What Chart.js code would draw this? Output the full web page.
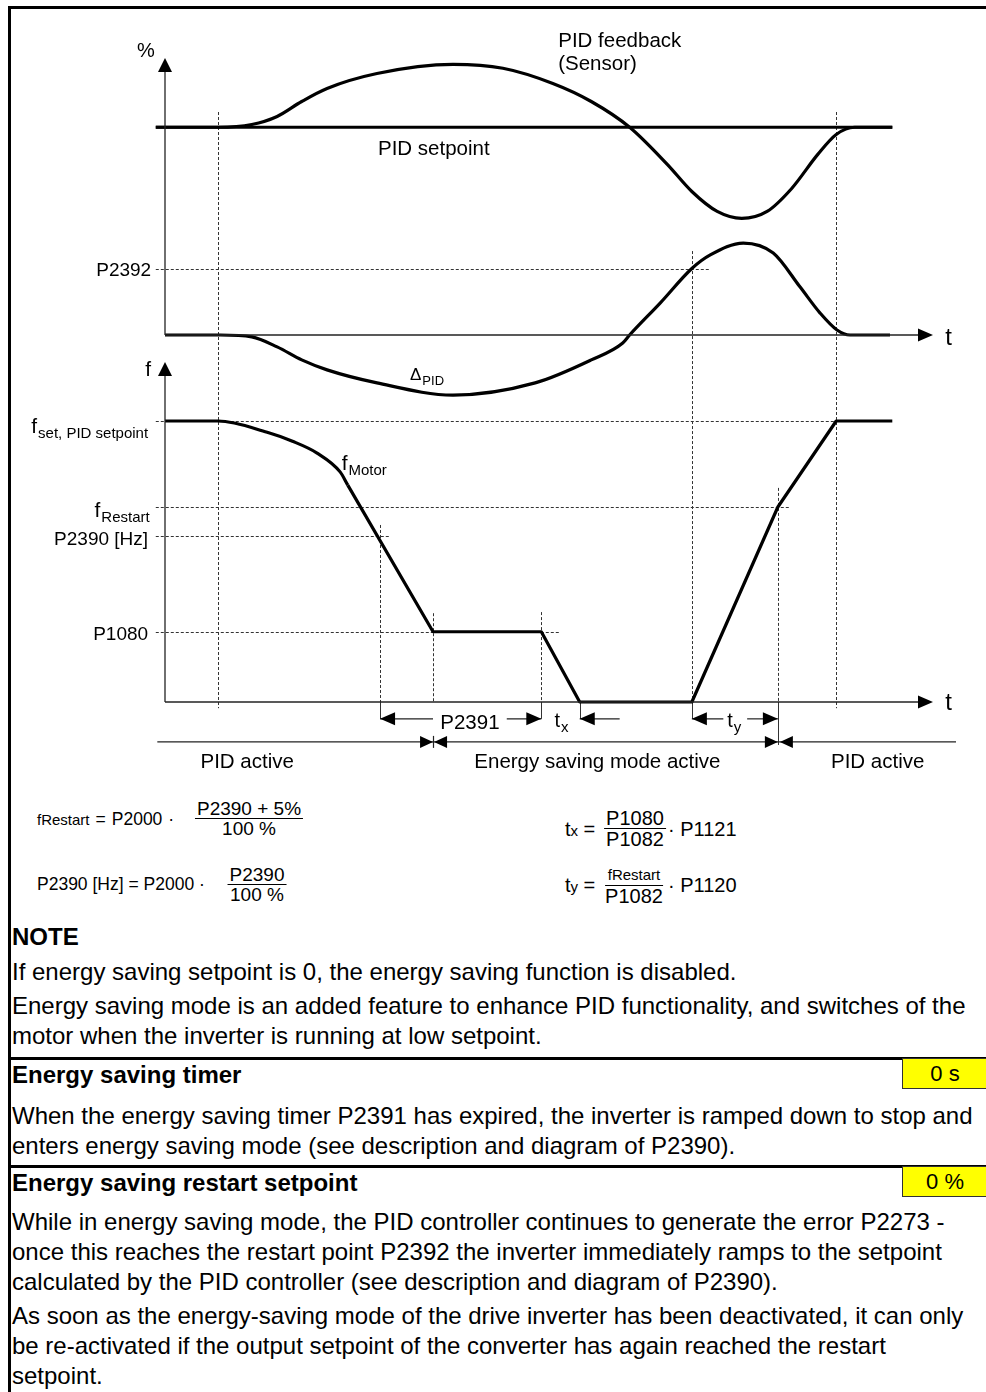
<!DOCTYPE html>
<html>
<head>
<meta charset="utf-8">
<script src="https://cdn.jsdelivr.net/npm/chart.js@4.4.1/dist/chart.umd.min.js"></script>
<style>
  html, body { margin: 0; padding: 0; background: #fff; }
  body { width: 986px; height: 1392px; position: relative; overflow: hidden;
         font-family: "Liberation Sans", Arial, sans-serif; color: #000; }
  #diagram { position: absolute; left: 0; top: 0; }
  .rule { position: absolute; background: #000; }
  .ln { position: absolute; left: 12px; white-space: nowrap; font-size: 24px; line-height: 28px; }
  .ln.b { font-weight: bold; }
  .badge { position: absolute; left: 902px; width: 86px; height: 31px; box-sizing: border-box;
           background: #ffff00; border: 1px solid #333; font-size: 22px; line-height: 29px;
           text-align: center; }
  .lhs { position: absolute; white-space: nowrap; font-size: 17.5px; line-height: 20px; }
  .op { margin: 0 6px; }
  .rhs { position: absolute; white-space: nowrap; font-size: 20px; line-height: 20px; }
  .frac { position: absolute; display: flex; flex-direction: column; text-align: center;
          transform: translateX(-50%); font-size: 19px; line-height: 19px; white-space: nowrap; }
  .frac.big { font-size: 20px; line-height: 20px; }
  .frac .num { border-bottom: 1px solid #000; padding: 0 2px; }
  .sm { font-size: 15px; }
</style>
</head>
<body>
<canvas id="diagram" width="986" height="780"></canvas>

<div class="rule" style="left:8px;top:6px;width:978px;height:3px"></div>
<div class="rule" style="left:8px;top:6px;width:3px;height:1386px"></div>
<div class="rule" style="left:8px;top:1057px;width:978px;height:3px"></div>
<div class="rule" style="left:8px;top:1165px;width:978px;height:3px"></div>

<!-- restart frequency and sleep threshold -->
<div class="lhs" style="left:37px;top:809px"><span class="sm">fRestart</span><span class="op">=</span>P2000<span class="op">·</span></div>
<div class="frac" style="left:249px;top:799px"><span class="num">P2390 + 5%</span><span>100 %</span></div>
<div class="lhs" style="left:37px;top:874px">P2390 [Hz] = P2000 ·</div>
<div class="frac" style="left:257px;top:865px"><span class="num">P2390</span><span>100 %</span></div>
<!-- ramp times -->
<div class="rhs" style="left:565px;top:819px">t<span class="sm">x</span> =</div>
<div class="frac big" style="left:635px;top:808px"><span class="num">P1080</span><span>P1082</span></div>
<div class="rhs" style="left:668px;top:819px">· P1121</div>
<div class="rhs" style="left:565px;top:875px">t<span class="sm">y</span> =</div>
<div class="frac big" style="left:634px;top:863px"><span class="num"><span class="sm">fRestart</span></span><span>P1082</span></div>
<div class="rhs" style="left:668px;top:875px">· P1120</div>

<div class="ln b" style="top:923px">NOTE</div>
<div class="ln" style="top:958px">If energy saving setpoint is 0, the energy saving function is disabled.</div>
<div class="ln" style="top:992px">Energy saving mode is an added feature to enhance PID functionality, and switches of the</div>
<div class="ln" style="top:1022px">motor when the inverter is running at low setpoint.</div>

<div class="ln b" style="top:1061px">Energy saving timer</div>
<div class="badge" style="top:1058px">0 s</div>
<div class="ln" style="top:1102px">When the energy saving timer P2391 has expired, the inverter is ramped down to stop and</div>
<div class="ln" style="top:1132px">enters energy saving mode (see description and diagram of P2390).</div>

<div class="ln b" style="top:1169px">Energy saving restart setpoint</div>
<div class="badge" style="top:1166px">0 %</div>
<div class="ln" style="top:1208px">While in energy saving mode, the PID controller continues to generate the error P2273 -</div>
<div class="ln" style="top:1238px">once this reaches the restart point P2392 the inverter immediately ramps to the setpoint</div>
<div class="ln" style="top:1268px">calculated by the PID controller (see description and diagram of P2390).</div>
<div class="ln" style="top:1302px">As soon as the energy-saving mode of the drive inverter has been deactivated, it can only</div>
<div class="ln" style="top:1332px">be re-activated if the output setpoint of the converter has again reached the restart</div>
<div class="ln" style="top:1362px">setpoint.</div>

<script>
// event times on the common t axis (0 = axis origin, 100 = arrow tip)
var T_DEV = 6.9        // PID starts to pull the frequency down
var T_P2390 = 28.0     // f falls below P2390 [Hz], timer starts
var T_MIN = 34.9       // f reaches P1080
var T_TIMER = 49.0     // P2391 elapsed
var T_STOP = 54.0      // motor stopped
var T_WAKE = 68.6      // delta reaches P2392
var T_RESTART = 79.8   // f back at fRestart
var T_SET = 87.4       // f back at setpoint
var T_END = 94.7

// upper graph, percent
var SETPOINT = 75
var P2392 = 24
var setpointT = [-1.2, T_END]
var setpointPct = [SETPOINT, SETPOINT]
var feedbackT = [-1.2, T_DEV, 11.3, 14.6, 17.8, 21.1, 27.6, 37.5, 44.0, 50.5, 55.5, 60.5, 65.4, 68.6, 71.9, 75.1, 78.4, 81.6, 85.0, T_SET, 89.8, T_END]
var feedbackPct = [75, 75, 76.0, 78.9, 84.3, 89.0, 94.4, 97.7, 96.3, 90.8, 84.3, 75, 61.6, 51.8, 44.6, 42.1, 44.6, 52.9, 65.2, 72.4, 75, 75]
var deltaT = [0, 7.2, 11.3, 14.6, 17.8, 21.1, 27.6, 37.5, 48.2, 55.5, 59.6, 60.5, 64.5, T_WAKE, 71.0, 75.3, 79.2, 82.7, 85.3, 87.5, 89.2, 94.4]
var deltaPct = [0, 0, -0.7, -4.3, -9, -12.6, -17.3, -21.7, -17.3, -9, -2.9, 0, 11.6, P2392, 28.9, 33.2, 29.6, 17.3, 7.9, 1.8, 0, 0]

// lower graph, Hz
var F_SET = 50
var F_RESTART = 34.7
var P2390_HZ = 29.5
var P1080 = 12.5
var motorCurveT = [0, T_DEV, 13.3, 16.6, 19.8, 22.8, 23.8]
var motorCurveF = [F_SET, F_SET, 48.0, 46.4, 44.3, 40.95, 38.6]
var motorRampT = [23.8, T_MIN, T_TIMER, T_STOP, T_WAKE, T_RESTART, T_SET, T_END]
var motorRampF = [38.6, P1080, P1080, 0, 0, F_RESTART, F_SET, F_SET]

// dotted level lines: scale, value, from t, to t
var levels = [
  ['yPct', P2392, -1.2, 71.0],
  ['yF', F_SET, -1.2, T_SET],
  ['yF', F_RESTART, -1.2, 81.3],
  ['yF', P2390_HZ, -1.2, 29.4],
  ['yF', P1080, -1.2, 51.4]
]
// dotted time markers: t, top, bottom, solid extension under the t axis
var markers = [
  [T_DEV, ['yPct', 80.5], ['yF', -1.1], null],
  [T_SET, ['yPct', 80.5], ['yF', -1.1], null],
  [T_WAKE, ['yPct', 30.3], ['yF', 0], ['yF', -3.0]],
  [T_P2390, ['yF', 31.5], ['yF', 0], ['yF', -3.0]],
  [T_MIN, ['yF', 15.8], ['yF', 0], null],
  [T_TIMER, ['yF', 16.0], ['yF', 0], ['yF', -3.0]],
  [T_STOP, null, ['yF', 0], ['yF', -3.0]],
  [T_RESTART, ['yF', 38.1], ['yF', 0], ['yF', -7.65]]
]
var DIM_Y = -3.0     // dimension arrows row (Hz scale)
var PHASE_Y = -7.1   // phase bar row (Hz scale)
var LABEL_Y = -11.7  // phase names

// labels: text, subscript, t, scale, value (baseline), align, size, sub size
var labels = [
  ['%', '', -2.5, 'yPct', 100.4, 'center', 20, 0],
  ['PID feedback', '', 51.2, 'yPct', 104.0, 'left', 20.5, 0],
  ['(Sensor)', '', 51.2, 'yPct', 95.7, 'left', 20.5, 0],
  ['PID setpoint', '', 35.0, 'yPct', 65.0, 'center', 20.5, 0],
  ['P2392', '', -1.8, 'yPct', 21.3, 'right', 19, 0],
  ['t', '', 101.6, 'yPct', -3.6, 'left', 24, 0],
  ['\u0394', 'PID', 31.9, 'yPct', -16.2, 'left', 17, 13],
  ['f', '', -2.2, 'yF', 58.0, 'center', 21, 0],
  ['f', 'set, PID setpoint', -2.2, 'yF', 47.9, 'right', 21, 15],
  ['f', 'Motor', 23.0, 'yF', 41.3, 'left', 21, 15],
  ['f', 'Restart', -2.0, 'yF', 32.9, 'right', 21, 15],
  ['P2390 [Hz]', '', -2.2, 'yF', 27.9, 'right', 19, 0],
  ['P1080', '', -2.2, 'yF', 11.0, 'right', 19, 0],
  ['t', '', 101.6, 'yF', -1.4, 'left', 24, 0],
  ['P2391', '', 39.7, 'yF', -4.8, 'center', 20.5, 0],
  ['t', 'x', 50.7, 'yF', -4.4, 'left', 20, 15],
  ['t', 'y', 73.2, 'yF', -4.4, 'left', 20, 15],
  ['PID active', '', 10.7, 'yF', LABEL_Y, 'center', 20.5, 0],
  ['Energy saving mode active', '', 56.3, 'yF', LABEL_Y, 'center', 20.5, 0],
  ['PID active', '', 92.8, 'yF', LABEL_Y, 'center', 20.5, 0]
]

var FONT = '"Liberation Sans", Arial, sans-serif'

function pts(ts, vs) { return ts.map(function (t, i) { return {x: t, y: vs[i]} }) }
function X(c, t) { return c.scales.x.getPixelForValue(t) }
function Y(c, s, v) { return c.scales[s].getPixelForValue(v) }

function line(ctx, x1, y1, x2, y2) {
  ctx.beginPath(); ctx.moveTo(x1, y1); ctx.lineTo(x2, y2); ctx.stroke()
}
// filled arrow head, dir = 1 points right, -1 left
function headH(ctx, x, y, dir, len, half) {
  ctx.beginPath(); ctx.moveTo(x, y); ctx.lineTo(x - dir * len, y - half); ctx.lineTo(x - dir * len, y + half)
  ctx.closePath(); ctx.fill()
}
function headV(ctx, x, y, len, half) {
  ctx.beginPath(); ctx.moveTo(x, y); ctx.lineTo(x - half, y + len); ctx.lineTo(x + half, y + len)
  ctx.closePath(); ctx.fill()
}

var sketch = {
  id: 'sketch',
  beforeDatasetsDraw: function (c) {
    var ctx = c.ctx
    ctx.save()
    ctx.strokeStyle = '#333'
    ctx.lineWidth = 1
    ctx.setLineDash([3, 2])
    levels.forEach(function (l) {
      var y = Math.round(Y(c, l[0], l[1])) + 0.5
      line(ctx, X(c, l[2]), y, X(c, l[3]), y)
    })
    markers.forEach(function (m) {
      var x = Math.round(X(c, m[0])) + 0.5
      var yb = Y(c, m[2][0], m[2][1])
      if (m[1]) { ctx.setLineDash([3, 2]); line(ctx, x, Y(c, m[1][0], m[1][1]), x, yb) }
      if (m[3]) { ctx.setLineDash([]); line(ctx, x, yb, x, Y(c, m[3][0], m[3][1])) }
    })
    ctx.restore()
  },
  afterDatasetsDraw: function (c) {
    var ctx = c.ctx
    ctx.save()
    ctx.strokeStyle = '#222'
    ctx.fillStyle = '#000'
    ctx.lineWidth = 1.3
    ctx.setLineDash([])
    var x0 = X(c, 0), xTip = X(c, 100)
    // percent axis and t axis of the upper graph
    var pTop = Y(c, 'yPct', 100), pZero = Y(c, 'yPct', 0)
    line(ctx, x0, pZero, x0, pTop + 12)
    headV(ctx, x0, pTop, 14, 7)
    line(ctx, x0, pZero, xTip - 12, pZero)
    headH(ctx, xTip, pZero, 1, 15, 6.5)
    // frequency axis and its t axis
    var fTop = Y(c, 'yF', 60.5), fZero = Y(c, 'yF', 0)
    line(ctx, x0, fZero, x0, fTop + 12)
    headV(ctx, x0, fTop, 14, 7)
    line(ctx, x0, fZero, xTip - 12, fZero)
    headH(ctx, xTip, fZero, 1, 15, 6.5)

    // dimension arrows
    ctx.lineWidth = 1.2
    var dy = Y(c, 'yF', DIM_Y)
    var dims = [[T_P2390, T_MIN, -1], [44.5, T_TIMER, 1], [T_STOP, 59.2, -1], [T_WAKE, 72.7, -1], [75.8, T_RESTART, 1]]
    dims.forEach(function (d) {
      var a = X(c, d[0]), b = X(c, d[1])
      line(ctx, a, dy, b, dy)
      if (d[2] < 0) headH(ctx, a, dy, -1, 15, 6.5)
      else headH(ctx, b, dy, 1, 15, 6.5)
    })

    // phase bar
    var py = Y(c, 'yF', PHASE_Y)
    line(ctx, X(c, -1.0), py, X(c, 103.0), py)
    var xm = X(c, T_MIN), xr = X(c, T_RESTART)
    headH(ctx, xm, py, 1, 13, 6); headH(ctx, xm + 1, py, -1, 13, 6)
    headH(ctx, xr, py, 1, 13, 6); headH(ctx, xr + 2, py, -1, 13, 6)
    line(ctx, Math.round(xm) + 0.5, py - 6, Math.round(xm) + 0.5, py + 6)

    // labels
    ctx.textBaseline = 'alphabetic'
    labels.forEach(function (l) {
      ctx.font = l[6] + 'px ' + FONT
      var wMain = ctx.measureText(l[0]).width
      var wSub = 0
      if (l[1]) { ctx.font = l[7] + 'px ' + FONT; wSub = ctx.measureText(l[1]).width + 1 }
      var w = wMain + wSub
      var x = X(c, l[2]), y = Y(c, l[3], l[4])
      if (l[5] === 'right') x -= w
      else if (l[5] === 'center') x -= w / 2
      ctx.textAlign = 'left'
      ctx.font = l[6] + 'px ' + FONT
      ctx.fillText(l[0], x, y)
      if (l[1]) {
        ctx.font = l[7] + 'px ' + FONT
        ctx.fillText(l[1], x + wMain + 1, y + 5)
      }
    })
    ctx.restore()
  }
}

function curve(ts, vs, axis, smooth) {
  return {
    data: pts(ts, vs),
    yAxisID: axis,
    borderColor: '#000',
    borderWidth: 3.2,
    pointRadius: 0,
    fill: false,
    clip: false,
    tension: 0,
    cubicInterpolationMode: smooth ? 'monotone' : 'default',
    borderJoinStyle: 'round'
  }
}

var ctx = document.getElementById('diagram').getContext('2d')
new Chart(ctx, {
  type: 'line',
  data: {
    datasets: [
      curve(setpointT, setpointPct, 'yPct', false),
      curve(feedbackT, feedbackPct, 'yPct', true),
      curve(deltaT, deltaPct, 'yPct', true),
      curve(motorCurveT, motorCurveF, 'yF', true),
      curve(motorRampT, motorRampF, 'yF', false)
    ]
  },
  options: {
    responsive: false,
    animation: false,
    events: [],
    layout: { padding: { left: 165, top: 58, right: 53, bottom: 78 } },
    plugins: { legend: { display: false }, tooltip: { enabled: false }, title: { display: false } },
    scales: {
      x: { type: 'linear', min: 0, max: 100, display: false },
      yPct: { type: 'linear', min: -132.5, max: 100, display: false },
      yF: { type: 'linear', min: 0, max: 114.6, display: false }
    }
  },
  plugins: [sketch]
})
</script>
</body>
</html>
